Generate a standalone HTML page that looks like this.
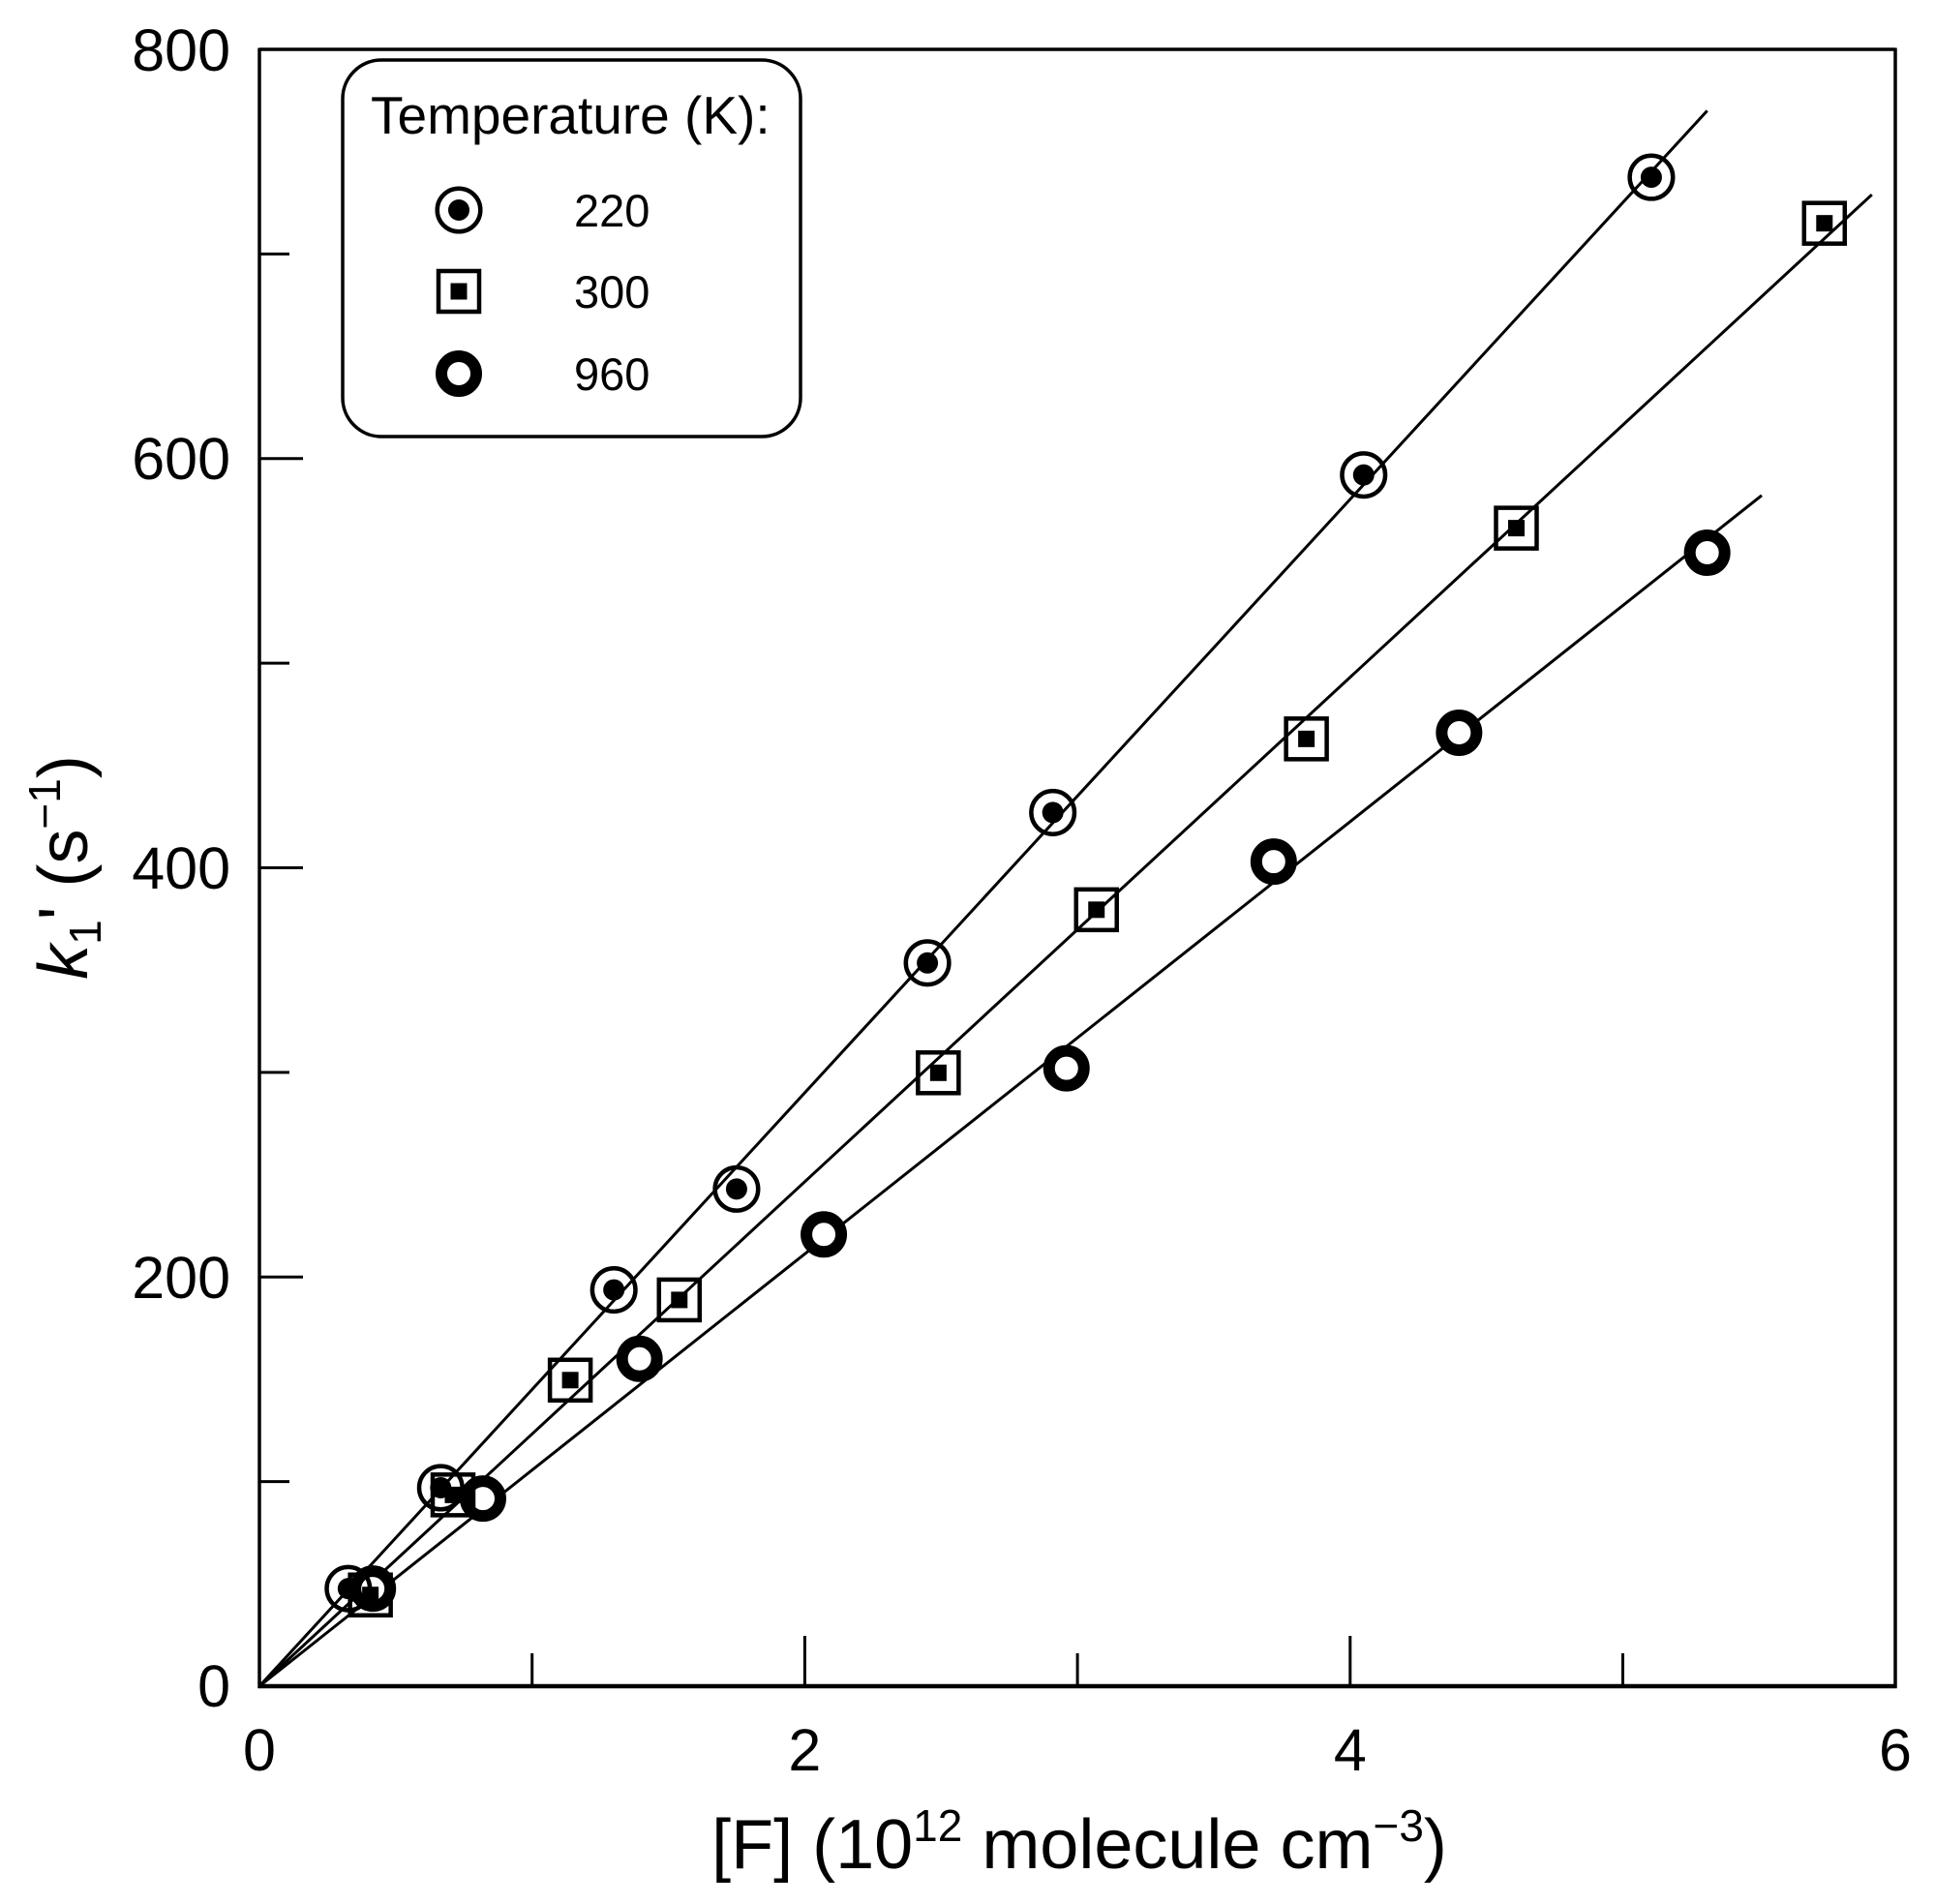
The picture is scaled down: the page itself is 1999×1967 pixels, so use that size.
<!DOCTYPE html>
<html><head><meta charset="utf-8"><style>
html,body{margin:0;padding:0;background:#fff}
svg{display:block}
text{font-family:"Liberation Sans",sans-serif;fill:#000}
</style></head><body>
<svg id="s" width="1999" height="1967" viewBox="0 0 1999 1967" xmlns="http://www.w3.org/2000/svg">
<rect width="1999" height="1967" fill="#fff"/>
<g id="lines" stroke="#000" stroke-width="3" fill="none"></g>
<g id="marks"></g>
<!-- axes -->
<line x1="268" y1="51" x2="1958" y2="51" stroke="#000" stroke-width="3.5"/>
<line x1="268" y1="49.5" x2="268" y2="1744" stroke="#000" stroke-width="3.5"/>
<line x1="1958" y1="49.5" x2="1958" y2="1744" stroke="#000" stroke-width="3.5"/>
<line x1="266.5" y1="1742" x2="1959.5" y2="1742" stroke="#000" stroke-width="4.5"/>
<g stroke="#000" stroke-width="3">
<line x1="549.7" y1="1742" x2="549.7" y2="1708"/>
<line x1="831.4" y1="1742" x2="831.4" y2="1690"/>
<line x1="1113.1" y1="1742" x2="1113.1" y2="1708"/>
<line x1="1394.8" y1="1742" x2="1394.8" y2="1690"/>
<line x1="1676.5" y1="1742" x2="1676.5" y2="1708"/>
<line x1="268" y1="1530.6" x2="299" y2="1530.6"/>
<line x1="268" y1="1319.3" x2="313" y2="1319.3"/>
<line x1="268" y1="1107.9" x2="299" y2="1107.9"/>
<line x1="268" y1="896.5" x2="313" y2="896.5"/>
<line x1="268" y1="685.1" x2="299" y2="685.1"/>
<line x1="268" y1="473.8" x2="313" y2="473.8"/>
<line x1="268" y1="262.4" x2="299" y2="262.4"/>
</g>
<g font-size="61" text-anchor="end">
<text x="238" y="1763">0</text>
<text x="238" y="1341">200</text>
<text x="238" y="918">400</text>
<text x="238" y="495">600</text>
<text x="238" y="73">800</text>
</g>
<g font-size="61" text-anchor="middle">
<text x="268" y="1829">0</text>
<text x="831.4" y="1829">2</text>
<text x="1394.8" y="1829">4</text>
<text x="1958" y="1829">6</text>
</g>
<text x="1115" y="1930" font-size="72" text-anchor="middle">[F] (10<tspan font-size="46" dy="-28">12</tspan><tspan dy="28"> molecule cm</tspan><tspan font-size="46" dy="-28">−3</tspan><tspan dy="28">)</tspan></text>
<text transform="translate(90,896) rotate(-90)" font-size="72" text-anchor="middle"><tspan font-style="italic">k</tspan><tspan font-size="46" dy="14">1</tspan><tspan dy="-14">' (s</tspan><tspan font-size="46" dy="-28">−1</tspan><tspan dy="28">)</tspan></text>
<!-- legend -->
<rect x="354" y="62" width="473" height="389" rx="40" ry="40" fill="#fff" stroke="#000" stroke-width="3.5"/>
<text x="383" y="138" font-size="55">Temperature (K):</text>
<g font-size="47">
<text x="593" y="234">220</text>
<text x="593" y="318">300</text>
<text x="593" y="403">960</text>
</g>
<g id="leg"></g>
</svg>
<script>
var X=function(d){return 268+d*281.67},Y=function(v){return 1742-v*2.11375};
var NS="http://www.w3.org/2000/svg";
function el(p,n,a){var e=document.createElementNS(NS,n);for(var k in a)e.setAttribute(k,a[k]);p.appendChild(e);return e;}
var L=document.getElementById('lines'),M=document.getElementById('marks'),G=document.getElementById('leg');
el(L,'line',{x1:X(0),y1:Y(0),x2:X(5.31),y2:Y(770)});
el(L,'line',{x1:X(0),y1:Y(0),x2:X(5.914),y2:Y(729)});
el(L,'line',{x1:X(0),y1:Y(0),x2:X(5.51),y2:Y(582)});
function m220(p,x,y){el(p,'circle',{cx:x,cy:y,r:22.3,fill:'none',stroke:'#000','stroke-width':4.5});el(p,'circle',{cx:x,cy:y,r:11,fill:'#000'});}
function m300(p,x,y){el(p,'rect',{x:x-21,y:y-21,width:42,height:42,fill:'none',stroke:'#000','stroke-width':4.5});el(p,'rect',{x:x-8.5,y:y-8.5,width:17,height:17,fill:'#000'});}
function m960(p,x,y){el(p,'circle',{cx:x,cy:y,r:18,fill:'#fff',stroke:'#000','stroke-width':12});}
var a=[[0.326,47.7],[0.665,97],[1.30,193.7],[1.75,243],[2.45,353.5],[2.91,427],[4.05,592],[5.105,737.5]];
var b=[[0.407,44.6],[0.71,93.5],[1.14,149.6],[1.54,188.8],[2.49,299.8],[3.07,379.5],[3.84,463],[4.61,566],[5.74,715]];
var c=[[0.416,47.7],[0.82,91.7],[1.394,160],[2.07,220.8],[2.96,302],[3.72,403],[4.40,466],[5.31,554]];
c.forEach(function(d){m960(M,X(d[0]),Y(d[1]))});
b.forEach(function(d){m300(M,X(d[0]),Y(d[1]))});
a.forEach(function(d){m220(M,X(d[0]),Y(d[1]))});
m220(G,474,217);m300(G,474,301);m960(G,474,386);
</script>
</body></html>
